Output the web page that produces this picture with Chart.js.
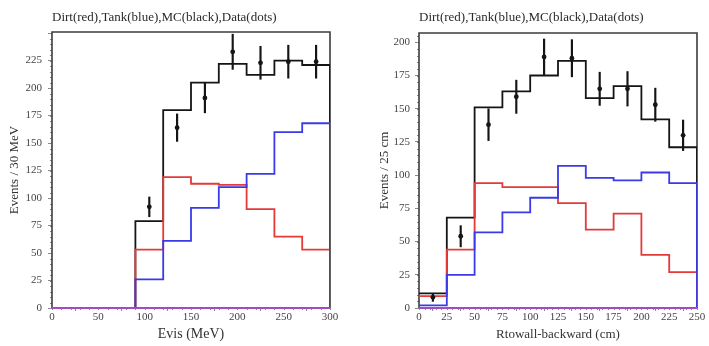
<!DOCTYPE html>
<html>
<head>
<meta charset="utf-8">
<script src="https://cdn.jsdelivr.net/npm/chart.js@4/dist/chart.umd.min.js"></script>
<style>
  html, body { margin: 0; padding: 0; background: #fff; }
  #wrap { position: relative; width: 709px; height: 346px; overflow: hidden; }
  .pane { position: absolute; top: 0; height: 346px; }
</style>
</head>
<body>
<div id="wrap">
  <div class="pane" style="left:0;width:355px"><canvas id="c1" width="355" height="346"></canvas></div>
  <div class="pane" style="left:355px;width:354px"><canvas id="c2" width="354" height="346"></canvas></div>
</div>
<script>
// ---- Data ----
const titleText = "Dirt(red),Tank(blue),MC(black),Data(dots)";

// Left panel: Evis
const evisEdges = [0, 30, 60, 90, 120, 150, 180, 210, 240, 270, 300];
const evisMC    = [0, 0, 0, 79, 180, 205, 222, 212, 225, 221];
const evisDirt  = [0, 0, 0, 53, 119, 113, 112, 90, 65, 53];
const evisTank  = [0, 0, 0, 26, 61, 91, 110, 122, 160, 168];
const evisDataX = [105, 135, 165, 195, 225, 255, 285];
const evisData  = [92, 164, 191, 233, 223, 224, 224];
const evisErr   = [9, 12.5, 13.5, 16, 15, 15, 15];

// Right panel: Rtowall-backward
const rtwEdges = [0, 25, 50, 75, 100, 125, 150, 175, 200, 225, 250];
const rtwMC    = [11, 68, 151, 163, 175, 186, 158, 167, 142, 121];
const rtwDirt  = [9, 44, 94, 91, 91, 79, 59, 71, 40, 27];
const rtwTank  = [2, 25, 57, 72, 83, 107, 98, 96, 102, 94];
const rtwDataX = [12.5, 37.5, 62.5, 87.5, 112.5, 137.5, 162.5, 187.5, 212.5, 237.5];
const rtwData  = [8, 54, 138, 159, 189, 188, 165, 165, 153, 130];
const rtwErr   = [3, 8, 12, 12.5, 13.5, 14, 12.5, 13, 12.5, 11.5];

// ---- helpers ----
const FONT = "'Liberation Serif', 'DejaVu Serif', serif";
const RED = '#e43a3a', BLUE = '#3a3ae8', BLACK = '#151515', PURPLE = '#a24bc4';

function stepPoints(edges, vals) {
  const pts = vals.map((v, i) => ({ x: edges[i], y: v }));
  pts.push({ x: edges[edges.length - 1], y: vals[vals.length - 1] });
  pts.push({ x: edges[edges.length - 1], y: 0 });
  return pts;
}
function histDS(edges, vals, color, order) {
  return {
    type: 'line', data: stepPoints(edges, vals), stepped: 'before',
    borderColor: color, borderWidth: 1.8, pointRadius: 0, fill: false, order: order
  };
}

const framePlugin = {
  id: 'frame',
  beforeDatasetsDraw(chart) {
    const { ctx, chartArea: a, scales } = chart;
    const m = chart.options.plugins.frame;
    ctx.save();
    // minor ticks
    ctx.strokeStyle = '#8a8a8a';
    ctx.lineWidth = 1;
    ctx.beginPath();
    for (let v = scales.y.min; v <= scales.y.max + 1e-9; v += m.minorY) {
      const py = Math.round(scales.y.getPixelForValue(v)) + 0.5;
      ctx.moveTo(a.left - 2, py); ctx.lineTo(a.left, py);
    }
    for (let v = scales.x.min; v <= scales.x.max + 1e-9; v += m.minorX) {
      const px = Math.round(scales.x.getPixelForValue(v)) + 0.5;
      ctx.moveTo(px, a.bottom); ctx.lineTo(px, a.bottom + 2);
    }
    ctx.stroke();
    // frame
    ctx.strokeStyle = '#3c3c3c';
    ctx.lineWidth = 1.6;
    ctx.beginPath();
    ctx.moveTo(a.left, a.bottom); ctx.lineTo(a.left, a.top);
    ctx.lineTo(a.right, a.top); ctx.lineTo(a.right, a.bottom);
    ctx.stroke();
    ctx.restore();
  },
  afterDatasetsDraw(chart) {
    const { ctx, chartArea: a } = chart;
    ctx.save();
    ctx.strokeStyle = PURPLE;
    ctx.lineWidth = 1.8;
    ctx.beginPath();
    ctx.moveTo(a.left, a.bottom); ctx.lineTo(a.right, a.bottom);
    ctx.stroke();
    ctx.restore();
  }
};

function makeChart(id, cfg) {
  const errData = cfg.dataX.map((x, i) => ({ x: x, y: [cfg.data[i] - cfg.err[i], cfg.data[i] + cfg.err[i]] }));
  const dotData = cfg.dataX.map((x, i) => ({ x: x, y: cfg.data[i] }));
  return new Chart(document.getElementById(id), {
    type: 'line',
    data: {
      datasets: [
        { type: 'scatter', data: dotData, pointRadius: 2.4, pointBackgroundColor: BLACK, pointBorderWidth: 0, showLine: false, order: 0 },
        { type: 'bar', data: errData, backgroundColor: BLACK, barThickness: 1.5, grouped: false, order: 0 },
        histDS(cfg.edges, cfg.tank, BLUE, 1),
        histDS(cfg.edges, cfg.dirt, RED, 2),
        histDS(cfg.edges, cfg.mc, BLACK, 3)
      ]
    },
    options: {
      responsive: false,
      animation: false,
      events: [],
      layout: { padding: { left: 0, right: cfg.padRight, top: 0, bottom: 0 } },
      plugins: {
        legend: { display: false },
        tooltip: { enabled: false },
        title: {
          display: true, text: titleText, fullSize: false, align: 'start',
          color: '#2a2a2a', font: { family: FONT, size: 13, weight: 'normal' },
          padding: { top: 10, bottom: cfg.titleBottom }
        },
        frame: { minorX: cfg.minorX, minorY: 5 }
      },
      scales: {
        x: {
          type: 'linear', min: 0, max: cfg.xMax, offset: false,
          afterFit(s) { s.height = 38; },
          ticks: { stepSize: cfg.xStep, includeBounds: false, padding: 0, color: '#444', font: { family: FONT, size: 11 } },
          grid: { drawOnChartArea: false, tickLength: 3, color: '#8a8a8a' },
          border: { display: false },
          title: { display: true, text: cfg.xTitle, color: '#333', font: { family: FONT, size: cfg.xTitleSize }, padding: { top: 0, bottom: 3.5 } }
        },
        y: {
          type: 'linear', min: 0, max: cfg.yMax,
          afterFit(s) { s.width = cfg.yWidth; },
          ticks: {
            stepSize: 25, includeBounds: false, padding: cfg.yPad, color: '#444', font: { family: FONT, size: 11 },
            callback: (v) => (v > cfg.yLabelMax ? '' : v)
          },
          grid: { drawOnChartArea: false, tickLength: 4, color: '#8a8a8a' },
          border: { display: false },
          title: { display: true, text: cfg.yTitle, color: '#333', font: { family: FONT, size: 13 }, padding: { top: cfg.yTitlePad, bottom: 0 } }
        }
      }
    },
    plugins: [framePlugin]
  });
}

makeChart('c1', {
  edges: evisEdges, mc: evisMC, dirt: evisDirt, tank: evisTank,
  dataX: evisDataX, data: evisData, err: evisErr,
  xMax: 300, xStep: 50, minorX: 10, yMax: 251, yLabelMax: 225,
  xTitle: 'Evis (MeV)', xTitleSize: 14, yTitle: 'Events / 30 MeV',
  yWidth: 52, yPad: 6, yTitlePad: 7, padRight: 25, titleBottom: 6.4
});
makeChart('c2', {
  edges: rtwEdges, mc: rtwMC, dirt: rtwDirt, tank: rtwTank,
  dataX: rtwDataX, data: rtwData, err: rtwErr,
  xMax: 250, xStep: 25, minorX: 5, yMax: 207, yLabelMax: 200,
  xTitle: 'Rtowall-backward (cm)', xTitleSize: 13, yTitle: 'Events / 25 cm',
  yWidth: 64, yPad: 5, yTitlePad: 22, padRight: 12, titleBottom: 7.4
});
</script>
</body>
</html>
